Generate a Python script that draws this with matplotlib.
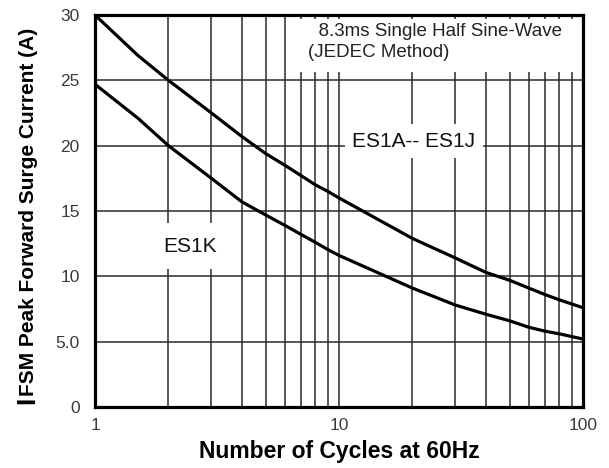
import matplotlib

matplotlib.use("Agg")
import matplotlib.pyplot as plt
from matplotlib.patches import Rectangle

plt.rcParams["font.family"] = ["Liberation Sans", "DejaVu Sans"]

# values
CYCLES = [1, 1.5, 2, 3, 4, 5, 6, 7, 8, 9, 10, 20, 30, 40, 50, 60, 70, 80, 100]
ES1A_ES1J = [30, 26.9, 25, 22.5, 20.7, 19.4, 18.5, 17.7, 17.0, 16.5, 16.0,
             12.9, 11.4, 10.3, 9.7, 9.1, 8.6, 8.2, 7.6]
ES1K = [24.7, 22.1, 20, 17.5, 15.7, 14.7, 13.9, 13.2, 12.6, 12.05, 11.6,
        9.1, 7.8, 7.1, 6.6, 6.1, 5.8, 5.6, 5.2]

Y_TICKS = [0, 5, 10, 15, 20, 25, 30]
Y_TICK_LABELS = ["0", "5.0", "10", "15", "20", "25", "30"]
X_TICKS = [1, 10, 100]
X_TICK_LABELS = ["1", "10", "100"]

GRID = "#2b2b2b"

fig = plt.figure(figsize=(6.09, 4.68), dpi=100)
ax = fig.add_axes([95 / 609, 61 / 468, 488 / 609, 392 / 468])

ax.set_xscale("log")
ax.set_xlim(1, 100)
ax.set_ylim(0, 30)

ax.plot(CYCLES, ES1A_ES1J, color="black", linewidth=2.3, zorder=4, solid_joinstyle="round")
ax.plot(CYCLES, ES1K, color="black", linewidth=2.3, zorder=4, solid_joinstyle="round")

ax.set_yticks(Y_TICKS)
ax.set_yticklabels(Y_TICK_LABELS)
ax.set_xticks(X_TICKS)
ax.set_xticklabels(X_TICK_LABELS)
ax.tick_params(axis="both", which="both", length=0, labelsize=12.5, labelcolor="#3a3a3a")
ax.tick_params(axis="y", pad=11)
ax.tick_params(axis="x", pad=8)

ax.set_axisbelow(True)
ax.grid(True, which="major", axis="y", color=GRID, linewidth=1.1)
ax.grid(True, which="both", axis="x", color=GRID, linewidth=1.1)

for spine in ax.spines.values():
    spine.set_linewidth(2.3)
    spine.set_color("black")
    spine.set_zorder(5)

# white panel behind the test condition note
ax.add_patch(Rectangle((0.41, 0.855), 0.59, 0.135, transform=ax.transAxes,
                       facecolor="white", edgecolor="none", zorder=2))
ax.text(0.437, 0.98, "  8.3ms Single Half Sine-Wave\n(JEDEC Method)", transform=ax.transAxes,
        ha="left", va="top", fontsize=13.5, color="#222222", linespacing=1.3, zorder=3)

ax.text(2.45, 12.3, "ES1K", ha="center", va="center", fontsize=15, color="#111111", zorder=3,
        bbox=dict(boxstyle="square,pad=0.65", facecolor="white", edgecolor="none"))
ax.text(20.3, 20.35, "ES1A-- ES1J", ha="center", va="center", fontsize=15, color="#111111", zorder=3,
        bbox=dict(boxstyle="square,pad=0.35", facecolor="white", edgecolor="none"))

ax.set_xlabel("Number of Cycles at 60Hz", fontsize=16.5, fontweight="bold", labelpad=5)

# y label: large "I" followed by smaller "FSM ..." on the same baseline
renderer = fig.canvas.get_renderer()
big_i = fig.text(34 / 609, 64 / 468, "I", rotation=90, rotation_mode="anchor",
                 ha="left", va="baseline", fontsize=19, fontweight="bold")
bb = big_i.get_window_extent(renderer)
fig.text(34 / 609, (bb.y1 + 1) / 468, "FSM Peak Forward Surge Current (A)", rotation=90,
         rotation_mode="anchor", ha="left", va="baseline", fontsize=15, fontweight="bold")

fig.savefig("out.png", dpi=100)
plt.close(fig)
